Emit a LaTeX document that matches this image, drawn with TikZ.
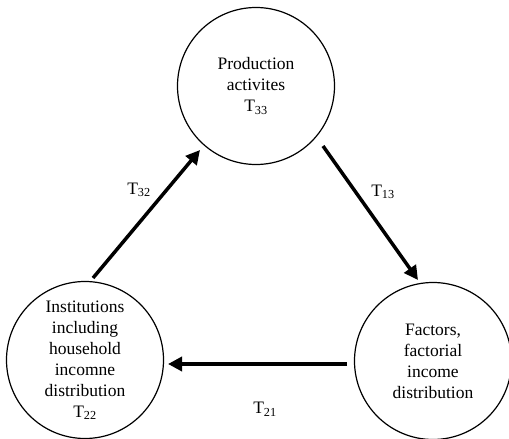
\documentclass[tikz,border=0pt]{standalone}
\usepackage{fontspec}
\setmainfont{Liberation Serif}
\usepackage{tikz}
\usetikzlibrary{arrows.meta}

\begin{document}
\begin{tikzpicture}[x=1pt,y=-1pt,>={Triangle[length=14pt,width=14pt]},
    font=\fontsize{17.5}{21}\selectfont]
            \tikzset{sector/.style={draw, circle, line width=1.2pt, minimum size=157pt, inner sep=0pt, align=center},
                     flow/.style={->, line width=3.5pt},
                     tag/.style={inner sep=0pt}}
            \useasboundingbox (0,0) rectangle (509,439);
            \node[sector] (P) at (256,86)  {Production\\activites\\T\textsubscript{33}};
            \node[sector] (I) at (85,360)  {Institutions\\including\\household\\incomne\\distribution\\T\textsubscript{22}};
            \node[sector] (F) at (433,361) {Factors,\\factorial\\income\\distribution};
            % flows between the accounts
            \draw[flow] ([shift={(8,-82)}]I.center) -- ([shift={(-56,64)}]P.center);
            \draw[flow] ([shift={(67,60)}]P.center) -- ([shift={(-15,-81)}]F.center);
            \draw[flow] ([shift={(-86,3)}]F.center) -- ([shift={(83,4)}]I.center);
            \node[tag] (T32) at (139,190) {T\textsubscript{32}};
            \node[tag] (T13) at (383,192) {T\textsubscript{13}};
            \node[tag] (T21) at (265,409) {T\textsubscript{21}};
        \end{tikzpicture}
\end{document}
